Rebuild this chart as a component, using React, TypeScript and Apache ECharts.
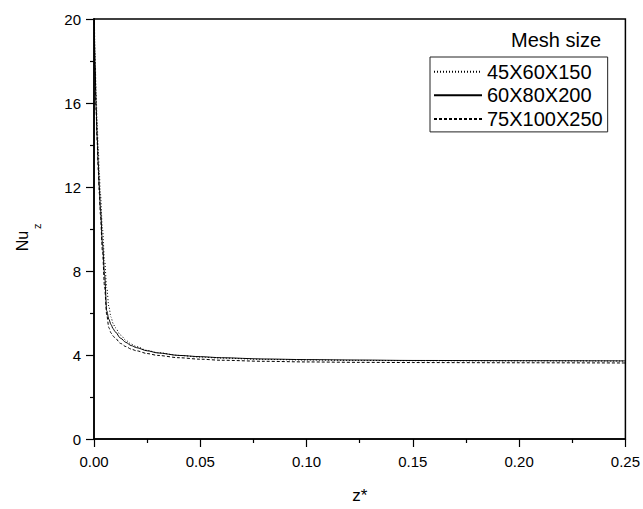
import React, { useEffect, useRef } from "react";
import * as echarts from "echarts";

const zValues = [0, 0.0005, 0.001, 0.0015, 0.002, 0.0025, 0.003, 0.004, 0.005, 0.006, 0.007, 0.008, 0.009, 0.01, 0.0125, 0.015, 0.0175, 0.02, 0.025, 0.03, 0.04, 0.05, 0.06, 0.08, 0.1, 0.125, 0.15, 0.2, 0.25];

const mesh45 = [21.5, 18.4, 16.5, 15.0, 13.8, 12.7, 11.7, 10.0, 8.5, 7.2, 6.3, 5.8, 5.5, 5.3, 4.95, 4.7, 4.52, 4.4, 4.22, 4.11, 3.98, 3.9, 3.85, 3.79, 3.76, 3.74, 3.73, 3.72, 3.71];
const mesh60 = [21, 17.8, 15.8, 14.4, 13.1, 12.0, 11.0, 9.3, 7.8, 6.1, 5.7, 5.45, 5.25, 5.1, 4.8, 4.6, 4.45, 4.35, 4.2, 4.1, 3.98, 3.92, 3.87, 3.81, 3.78, 3.76, 3.74, 3.73, 3.72];
const mesh75 = [20.8, 17.6, 15.6, 14.1, 12.8, 11.7, 10.7, 8.9, 7.2, 5.9, 5.3, 5.05, 4.9, 4.8, 4.55, 4.4, 4.28, 4.2, 4.07, 3.98, 3.87, 3.8, 3.75, 3.7, 3.67, 3.65, 3.64, 3.63, 3.62];

const seriesNames = ["45X60X150", "60X80X200", "75X100X250"];
const legendTitle = "Mesh size";
const xName = "z*";
const yNameMain = "Nu";
const yNameSub = "z";

const FONT = "Arial, 'Liberation Sans', sans-serif";

export default function App() {
  const ref = useRef<HTMLDivElement>(null);
  useEffect(() => {
    document.body.style.margin = "0";
    const chart = echarts.init(ref.current!, null, { renderer: "svg" });
    const pairs = (ys: number[]) => zValues.map((z, i) => [z, ys[i]]);
    const lineTypes: any[] = [[1, 2], "solid", [3, 2]];
    const datas = [mesh45, mesh60, mesh75];
    chart.setOption({
      animation: false,
      backgroundColor: "#fff",
      textStyle: { fontFamily: FONT },
      grid: {
        left: 94,
        right: 14,
        top: 19,
        bottom: 60,
        show: true,
        borderColor: "#000",
        borderWidth: 1.5,
        backgroundColor: "transparent",
      },
      legend: {
        data: seriesNames,
        orient: "vertical",
        left: 430,
        top: 57,
        itemWidth: 48,
        itemHeight: 20,
        itemGap: 3.6,
        padding: [4.7, 5, 3, 3],
        borderColor: "#222",
        borderWidth: 1,
        itemStyle: { color: "rgba(0,0,0,0)", borderColor: "rgba(0,0,0,0)", borderWidth: 0, opacity: 0 },
        textStyle: { fontSize: 20, color: "#000", fontFamily: FONT },
        selectedMode: false,
      },
      xAxis: {
        type: "value",
        min: 0,
        max: 0.25,
        interval: 0.05,
        name: xName,
        nameLocation: "middle",
        nameGap: 48,
        nameTextStyle: { fontSize: 17, color: "#000", fontFamily: FONT },
        axisLine: { show: true, onZero: false, lineStyle: { color: "#000", width: 1.5 } },
        axisTick: { show: true, length: 8, lineStyle: { color: "#000", width: 1.2 } },
        minorTick: { show: true, splitNumber: 2, length: 4, lineStyle: { color: "#000", width: 1.2 } },
        axisLabel: { fontSize: 15, color: "#000", margin: 15, formatter: (v: number) => v.toFixed(2), fontFamily: FONT },
        splitLine: { show: false },
        minorSplitLine: { show: false },
      },
      yAxis: {
        type: "value",
        min: 0,
        max: 20,
        interval: 4,
        axisLine: { show: true, onZero: false, lineStyle: { color: "#000", width: 1.5 } },
        axisTick: { show: true, length: 8, lineStyle: { color: "#000", width: 1.2 } },
        minorTick: { show: true, splitNumber: 2, length: 4, lineStyle: { color: "#000", width: 1.2 } },
        axisLabel: { fontSize: 15, color: "#000", margin: 13, fontFamily: FONT },
        splitLine: { show: false },
        minorSplitLine: { show: false },
      },
      graphic: [
        {
          type: "text",
          right: 643 - 601,
          top: 30,
          style: { text: legendTitle, fontSize: 20, fill: "#000", fontFamily: FONT },
        },
        {
          type: "group",
          x: 22.5,
          y: 241,
          rotation: Math.PI / 2,
          children: [
            {
              type: "text",
              x: 0,
              y: 0,
              style: { text: yNameMain, fontSize: 16, fill: "#000", align: "center", verticalAlign: "middle", fontFamily: FONT },
            },
            {
              type: "text",
              x: 12,
              y: 14,
              style: { text: yNameSub, fontSize: 11, fill: "#000", align: "left", verticalAlign: "middle", fontFamily: FONT },
            },
          ],
        },
      ],
      series: seriesNames.map((name, i) => ({
        name,
        type: "line",
        data: pairs(datas[i]),
        symbol: "none",
        showSymbol: false,
        smooth: 0.3,
        smoothMonotone: "x",
        clip: true,
        color: "#000",
        lineStyle: { color: "#000", width: 1, type: lineTypes[i] },
      })),
    });
    return () => chart.dispose();
  }, []);
  return <div ref={ref} style={{ width: 643, height: 509 }} />;
}
